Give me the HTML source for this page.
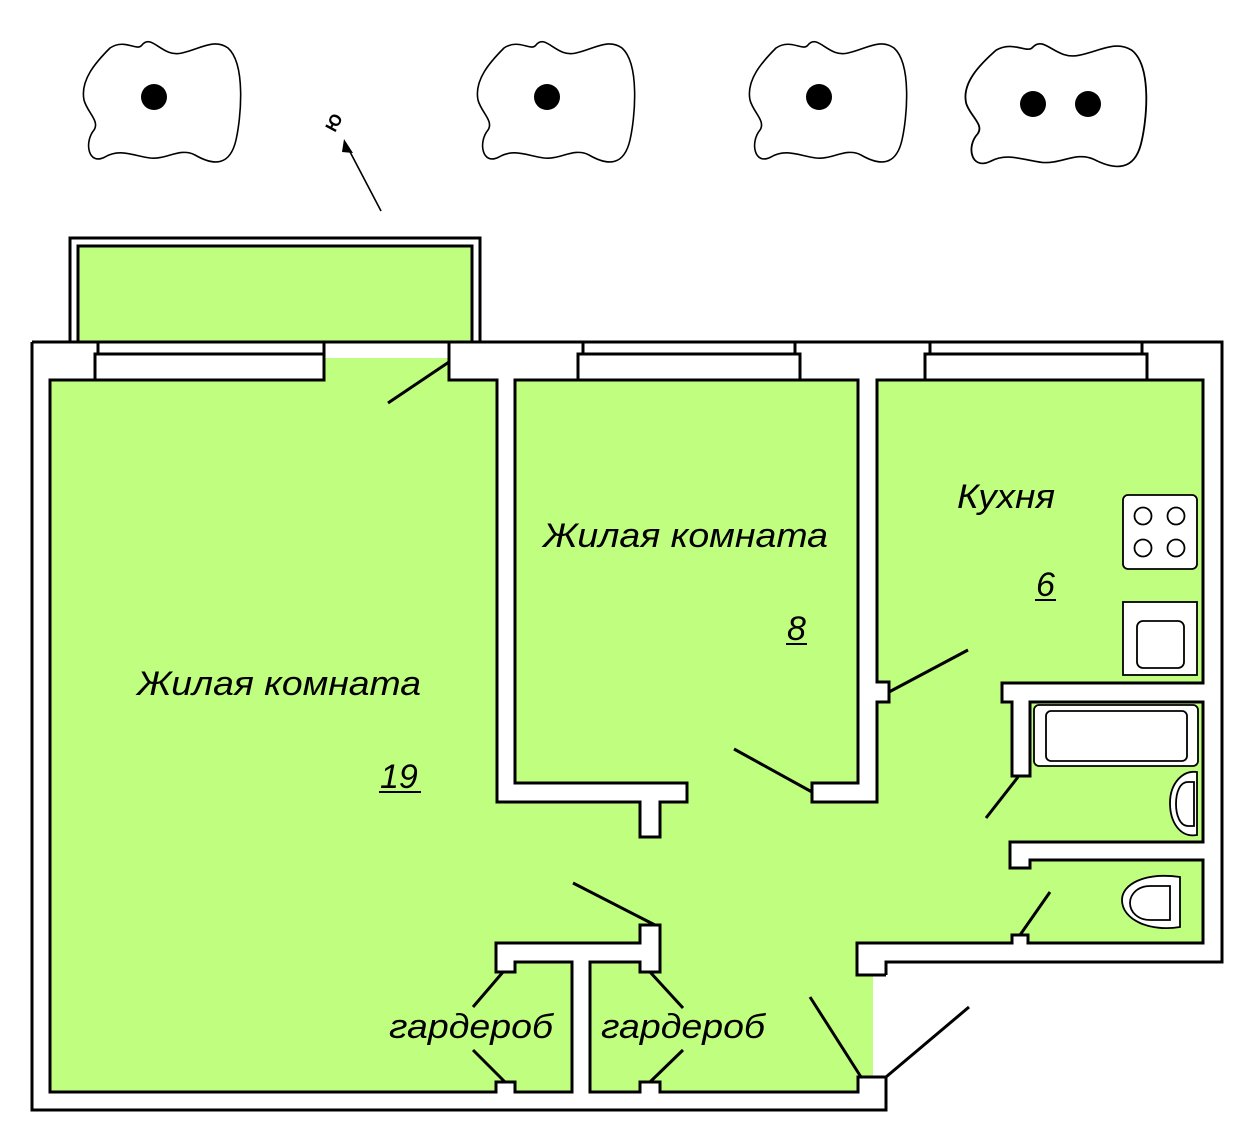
<!DOCTYPE html>
<html><head><meta charset="utf-8"><style>
html,body{margin:0;padding:0;background:#fff;}
svg{display:block;}
text{font-family:"Liberation Sans",sans-serif;font-style:italic;fill:#000;}
</style></head><body>
<svg width="1256" height="1146" viewBox="0 0 1256 1146" xmlns="http://www.w3.org/2000/svg">
<defs>
<path id="blob" d="M110,48 C125,38 137,52 142,45 C152,33 162,58 182,53 C200,49 214,38 228,48 C246,64 241,118 236,140 C230,166 214,166 195,155 C180,147 166,160 150,158 C134,156 120,148 105,157 C88,166 84,142 94,130 C100,121 87,112 84,100 C80,80 96,62 110,48 Z"/>
</defs>
<g fill="#fff" stroke="#000" stroke-width="1.6">
<use href="#blob"/>
<use href="#blob" transform="translate(394,0)"/>
<use href="#blob" transform="translate(666,0)"/>
<use href="#blob" transform="translate(965,40) scale(1.15,1.02) translate(-83,-38)"/>
</g>
<g fill="#000">
<circle cx="154" cy="97" r="13"/>
<circle cx="547" cy="97" r="13"/>
<circle cx="819" cy="97" r="13"/>
<circle cx="1033" cy="104" r="13"/>
<circle cx="1088" cy="104" r="13"/>
</g>
<!-- compass -->
<line x1="381" y1="211" x2="348" y2="148" stroke="#000" stroke-width="1.6"/>
<polygon points="344,139 353,153 342,152" fill="#000"/>
<text x="0" y="0" transform="translate(335,133) rotate(-62)" style="font-style:normal;font-weight:bold;font-size:17px">Ю</text>

<!-- balcony -->
<rect x="70" y="238" width="410" height="104" fill="#fff" stroke="#000" stroke-width="3"/>
<rect x="78" y="246" width="394" height="100" fill="#c0fe7f" stroke="#000" stroke-width="3"/>

<!-- outer wall -->
<polygon points="32,342 1222,342 1222,962 886,962 886,1110 32,1110" fill="#fff" stroke="none"/>
<polyline points="32,342 1222,342 1222,962 886,962 886,975" fill="none" stroke="#000" stroke-width="3"/>
<polyline points="886,1077 886,1110 32,1110 32,342" fill="none" stroke="#000" stroke-width="3"/>

<!-- green interior -->
<path id="g" d="M449,358 L449,380 L497,380 L497,802 L640,802 L640,837 L660,837 L660,802 L687,802 L687,783 L515,783 L515,380 L858,380 L858,783 L812,783 L812,802 L877,802 L877,702 L889,702 L889,682 L877,682 L877,380 L1203,380 L1203,683 L1002,683 L1002,702 L1012,702 L1012,776 L1030,776 L1030,702 L1203,702 L1203,842 L1010,842 L1010,868 L1030,868 L1030,860 L1203,860 L1203,943 L1028,943 L1028,935 L1012,935 L1012,943 L857,943 L857,975 L873,975 L873,1077 L858,1077 L858,1092 L660,1092 L660,1082 L640,1082 L640,1092 L590,1092 L590,962 L640,962 L640,972 L660,972 L660,925 L640,925 L640,943 L496,943 L496,972 L515,972 L515,962 L572,962 L572,1092 L515,1092 L515,1082 L496,1082 L496,1092 L50,1092 L50,380 L324,380 L324,358 Z" fill="#c0fe7f" stroke="none"/>
<polyline points="449,342 449,380 497,380 497,802 640,802 640,837 660,837 660,802 687,802 687,783 515,783 515,380 858,380 858,783 812,783 812,802 877,802 877,702 889,702 889,682 877,682 877,380 1203,380 1203,683 1002,683 1002,702 1012,702 1012,776 1030,776 1030,702 1203,702 1203,842 1010,842 1010,868 1030,868 1030,860 1203,860 1203,943 1028,943 1028,935 1012,935 1012,943 857,943 857,975 886,975" fill="none" stroke="#000" stroke-width="3"/>
<polyline points="873,1077 858,1077 858,1092 660,1092 660,1082 640,1082 640,1092 590,1092 590,962 640,962 640,972 660,972 660,925 640,925 640,943 496,943 496,972 515,972 515,962 572,962 572,1092 515,1092 515,1082 496,1082 496,1092 50,1092 50,380 95,380" fill="none" stroke="#000" stroke-width="3"/>
<line x1="858" y1="1077" x2="886" y2="1077" stroke="#000" stroke-width="3"/>

<!-- windows -->
<g fill="#fff" stroke="#000" stroke-width="3">
<rect x="98" y="342" width="226" height="12"/>
<rect x="95" y="354" width="229" height="26"/>
<rect x="583" y="342" width="212" height="12"/>
<rect x="578" y="354" width="222" height="26"/>
<rect x="930" y="342" width="212" height="12"/>
<rect x="925" y="354" width="222" height="26"/>
</g>

<!-- door swings -->
<g stroke="#000" stroke-width="3" fill="none">
<line x1="449" y1="362" x2="388" y2="403"/>
<line x1="812" y1="792" x2="734" y2="749"/>
<line x1="889" y1="692" x2="968" y2="650"/>
<line x1="1018" y1="777" x2="986" y2="818"/>
<line x1="1020" y1="935" x2="1050" y2="892"/>
<line x1="655" y1="925" x2="573" y2="883"/>
<line x1="503" y1="972" x2="473" y2="1007"/>
<line x1="473" y1="1050" x2="505" y2="1082"/>
<line x1="650" y1="972" x2="683" y2="1008"/>
<line x1="683" y1="1050" x2="650" y2="1082"/>
<line x1="861" y1="1077" x2="810" y2="997"/>
<line x1="886" y1="1077" x2="969" y2="1007"/>
</g>

<!-- kitchen fixtures -->
<g fill="#fff" stroke="#000" stroke-width="1.8">
<rect x="1123" y="495" width="74" height="74" rx="5"/>
<circle cx="1143" cy="516" r="8.5"/>
<circle cx="1176" cy="516" r="8.5"/>
<circle cx="1143" cy="548" r="8.5"/>
<circle cx="1176" cy="548" r="8.5"/>
<rect x="1123" y="602" width="74" height="73"/>
<rect x="1137" y="621" width="47" height="47" rx="6"/>
<rect x="1034" y="705" width="164" height="61" rx="5"/>
<rect x="1046" y="711" width="141" height="50" rx="5"/>
<path d="M1197,772 L1197,835 C1180,838 1170,822 1170,803 C1170,784 1182,770 1197,772 Z"/>
<path d="M1194,782 L1194,826 L1188,826 C1180,826 1176,815 1176,804 C1176,792 1180,782 1188,782 Z"/>
<path d="M1180,877 L1180,927 C1150,932 1122,920 1122,900 C1122,884 1145,872 1180,877 Z"/>
<path d="M1170,886 L1170,920 L1150,920 C1138,920 1130,912 1130,903 C1130,894 1138,886 1150,886 Z"/>
</g>

<!-- labels -->
<text x="137" y="695" font-size="34" textLength="284" lengthAdjust="spacingAndGlyphs">Жилая комната</text>
<text x="380" y="788" font-size="34">19</text>
<line x1="379" y1="792" x2="421" y2="792" stroke="#000" stroke-width="2"/>
<text x="543" y="547" font-size="34" textLength="285" lengthAdjust="spacingAndGlyphs">Жилая комната</text>
<text x="787" y="640" font-size="34">8</text>
<line x1="786" y1="644" x2="807" y2="644" stroke="#000" stroke-width="2"/>
<text x="957" y="508" font-size="34" textLength="98" lengthAdjust="spacingAndGlyphs">Кухня</text>
<text x="1036" y="596" font-size="34">6</text>
<line x1="1035" y1="600" x2="1056" y2="600" stroke="#000" stroke-width="2"/>
<text x="389" y="1038" font-size="34" textLength="164" lengthAdjust="spacingAndGlyphs">гардероб</text>
<text x="601" y="1038" font-size="34" textLength="164" lengthAdjust="spacingAndGlyphs">гардероб</text>
</svg>
</body></html>
